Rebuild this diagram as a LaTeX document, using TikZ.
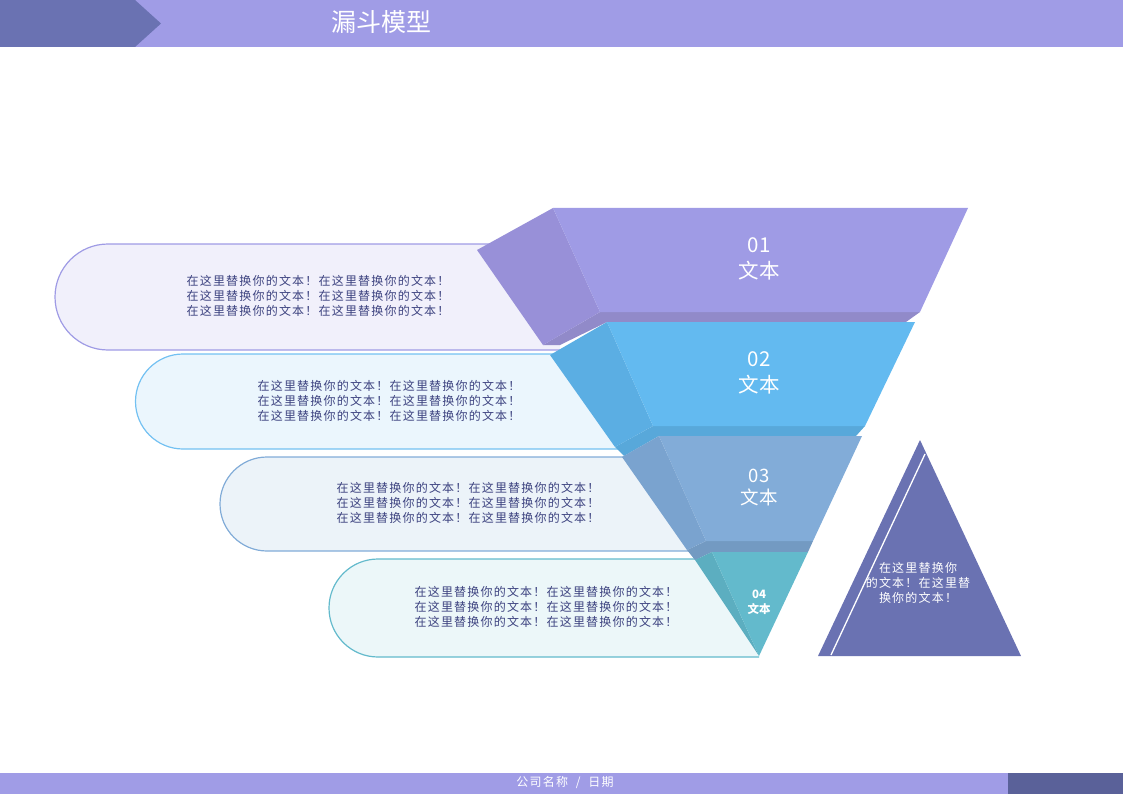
\documentclass[tikz,border=0pt]{standalone}
\usepackage{fontspec}
\setmainfont{Noto Sans CJK SC}
\newfontfamily\boxfont[LetterSpace=10]{Noto Sans CJK SC}
\definecolor{barlight}{HTML}{A09CE6}
\definecolor{bardark}{HTML}{6A72B2}
\definecolor{footdark}{HTML}{5A6199}
\definecolor{txtnavy}{HTML}{3D4380}
\definecolor{fa}{HTML}{9F9BE5}\definecolor{sa}{HTML}{9890D8}\definecolor{ba}{HTML}{918AC9}
\definecolor{fb}{HTML}{63BAF0}\definecolor{sb}{HTML}{5BAEE3}\definecolor{bb}{HTML}{58A8DA}
\definecolor{fc}{HTML}{82ACD8}\definecolor{sc}{HTML}{7AA3CF}\definecolor{bc}{HTML}{739AC2}
\definecolor{fd}{HTML}{63BACC}\definecolor{sd}{HTML}{5CAEC0}
\tikzset{
  boxtext/.style={align=center, text=txtnavy, font=\boxfont\fontsize{12}{15}\selectfont},
  layertext/.style={align=center, text=white, font=\fontsize{20.5}{26}\selectfont},
}
\begin{document}
\begin{tikzpicture}[x=1pt, y=-1pt]
\useasboundingbox (0,0) rectangle (1123,794);
% header and footer
\fill[barlight] (0,0) rectangle (1123,47);
\fill[bardark] (0,0) -- (135,0) -- (161,23.5) -- (135,47) -- (0,47) -- cycle;
\node[text=white, font=\fontsize{25}{30}\selectfont] (title) at (381,22) {漏斗模型};
\fill[barlight] (0,773) rectangle (1008,794);
\fill[footdark] (1008,773) rectangle (1123,794);
\node[text=white, font=\boxfont\fontsize{12}{14}\selectfont] (foot) at (565,783) {公司名称~~/~~日期};
% text boxes
\draw[line width=1.2pt, draw=fa, fill=fa!15] (560,244) -- (108,244) arc (270:90:53) -- (560,350);
\draw[line width=1.2pt, draw=fb!90, fill=fb!13] (625,354) -- (183,354) arc (270:90:47.5) -- (625,449);
\draw[line width=1.2pt, draw=fc, fill=fc!15] (695,457) -- (267,457) arc (270:90:47) -- (695,551);
\draw[line width=1.2pt, draw=fd, fill=fd!12] (712,559) -- (378,559) arc (270:90:49) -- (759,657);
\node[boxtext] (t1) at (318,296) {在这里替换你的文本！在这里替换你的文本！\\在这里替换你的文本！在这里替换你的文本！\\在这里替换你的文本！在这里替换你的文本！};
\node[boxtext] (t2) at (389,401) {在这里替换你的文本！在这里替换你的文本！\\在这里替换你的文本！在这里替换你的文本！\\在这里替换你的文本！在这里替换你的文本！};
\node[boxtext] (t3) at (468,503) {在这里替换你的文本！在这里替换你的文本！\\在这里替换你的文本！在这里替换你的文本！\\在这里替换你的文本！在这里替换你的文本！};
\node[boxtext] (t4) at (546,607) {在这里替换你的文本！在这里替换你的文本！\\在这里替换你的文本！在这里替换你的文本！\\在这里替换你的文本！在这里替换你的文本！};
% funnel layer 1
\fill[ba] (600,312) -- (920,312) -- (906,322) -- (607,322) -- (560,345) -- (543,345) -- cycle;
\fill[sa] (553,208) -- (477,250) -- (543,345) -- (600,312) -- cycle;
\fill[fa] (553,208) -- (968,208) -- (920,312) -- (600,312) -- cycle;
\node[layertext] (l1) at (759,259) {01\\文本};
% funnel layer 2
\fill[bb] (653,426) -- (865,426) -- (856,436) -- (659,436) -- (624,456) -- (615,447) -- cycle;
\fill[sb] (607,322) -- (550,355) -- (615,447) -- (653,426) -- cycle;
\fill[fb] (607,322) -- (915,322) -- (865,426) -- (653,426) -- cycle;
\node[layertext] (l2) at (759,373) {02\\文本};
% funnel layer 3
\fill[bc] (706,541) -- (813,541) -- (808,552) -- (712,552) -- (695,560) -- (687,550) -- cycle;
\fill[sc] (659,436) -- (622,457) -- (687,550) -- (706,541) -- cycle;
\fill[fc] (659,436) -- (862,436) -- (813,541) -- (706,541) -- cycle;
\node[layertext, font=\fontsize{18.5}{22}\selectfont] (l3) at (759,488) {03\\文本};
% funnel layer 4
\fill[sd] (712,552) -- (695,560) -- (759,656) -- cycle;
\fill[fd] (712,552) -- (808,552) -- (759,656) -- cycle;
\node[layertext, font=\bfseries\fontsize{11.5}{15}\selectfont] (l4) at (759,602) {04\\文本};
% triangle
\fill[bardark] (920,440) -- (1021,656) -- (818,656) -- cycle;
\draw[white, line width=1.3pt] (925,454) -- (831,655);
\node[align=center, text=white, font=\boxfont\fontsize{12}{15}\selectfont] (tri) at (918,583) {在这里替换你\\的文本！在这里替\\换你的文本！};
\end{tikzpicture}
\end{document}
